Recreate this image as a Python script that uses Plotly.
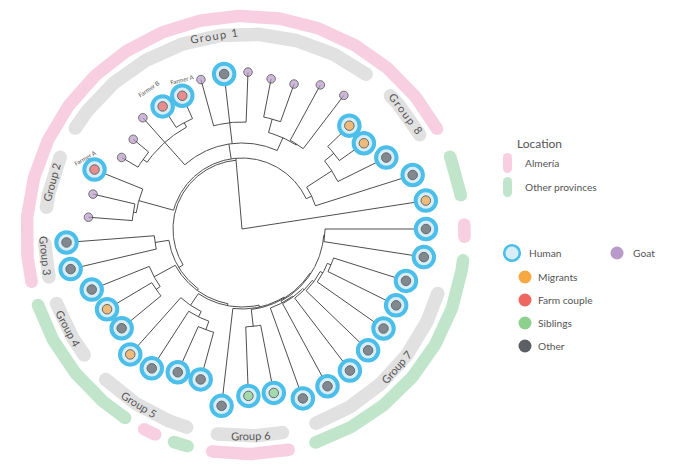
import math
import plotly.graph_objects as go

# ---------------- data ----------------
# leaves in circular order (counter-clockwise, starting just above 3 o'clock)
leaf_host = ["Human", "Human", "Human", "Human", "Human",
             "Goat", "Goat", "Goat", "Goat", "Goat",
             "Human", "Goat", "Human", "Human", "Goat",
             "Goat", "Goat", "Human", "Goat", "Goat",
             "Human", "Human", "Human", "Human", "Human",
             "Human", "Human", "Human", "Human", "Human",
             "Human", "Human", "Human", "Human", "Human",
             "Human", "Human", "Human", "Human", "Human", "Human"]
leaf_cat = ["Migrants", "Other", "Other", "Migrants", "Migrants",
            "Goat", "Goat", "Goat", "Goat", "Goat",
            "Other", "Goat", "Farm couple", "Farm couple", "Goat",
            "Goat", "Goat", "Farm couple", "Goat", "Goat",
            "Other", "Other", "Other", "Migrants", "Other",
            "Migrants", "Other", "Other", "Other", "Other",
            "Siblings", "Siblings", "Other", "Other", "Other",
            "Other", "Other", "Other", "Other", "Other", "Other"]
leaf_dist = [186, 179, 161, 149, 149, 168, 164, 154, 153, 157,
             156, 155, 146, 146, 149, 141, 140, 159, 153, 154,
             176, 176, 162, 157, 156, 168, 166, 157, 156, 178,
             167, 167, 180, 179, 178, 175, 173, 172, 172, 184, 184]
label_leaf = [12, 13, 17]
label_text = ["Farmer A", "Farmer B", "Farmer A"]

# tree: (node depth, [children]) ; integers are leaf indices.
# a third element "first" pins the node to the angle of its first child
group8_clade = (77, [1, (107, [2, (119, [3, 4])])])
goat_clade = (86, [(100, [(101, [5, 6]), (114, [7, 8])]),
                   (107, [9, 10, 11]),
                   (116, [(121, [12, 13]), 14, (121, [15, 16])])])
group2_clade = (107, [17, (110, [18, 19])])
top_clade = (71, [group8_clade, goat_clade, group2_clade])

group7_ladder = (84, [32, (85, [33, (87, [34, (89, [35, (92, [36, (96, [37, 38])])])])])])
rest_clade = (74, [(88, [20, 21]),
                   (76, [(100, [22, (105, [23, 24])]),
                         (78, [(92, [25, (98, [26, (107, [27, 28])])]),
                               (80, [29,
                                     (81, [(98, [30, 31]),
                                           (82, [group7_ladder, (83, [39, 40])])])])])])])
tree = (0, [0, (69, [top_clade, rest_clade], "first")])

group_names = ["Group 1", "Group 2", "Group 3", "Group 4",
               "Group 5", "Group 6", "Group 7", "Group 8"]
group_from = [51.2, 155.3, 180.5, 198.0, 224.0, 260.0, 288.6, 28.0]
group_to = [149.8, 174.0, 194.0, 218.6, 254.9, 282.5, 345.0, 45.8]
group_label_at = [99.0, 165.0, 186.0, 208.0, 238.0, 271.5, 318.5, 37.0]

location_names = ["Almería", "Other provinces", "Almería", "Other provinces",
                  "Almería", "Other provinces", "Almería", "Other provinces"]
location_from = [27.4, 8.8, -2.1, 287.0, 259.6, 249.3, 240.8, 197.0]
location_to = [194.0, 22.6, 4.4, 355.0, 283.0, 256.3, 247.3, 238.3]

# ---------------- style ----------------
W, H = 677, 475
PAGE = 8                          # default body margin of the page
CX_PX, CY_PX = 242, 229           # tree centre in pixels
RING_DX, RING_DY = 3.5, -6.0      # ring centre offset from tree centre
R_GROUP, R_LOC = 201, 219
BAND_W = 12.5
FONT = "Lato, Roboto, sans-serif"
TXT = "#555555"
C_PINK, C_GREEN, C_GREY = "#f8cfe1", "#c0e5ca", "#e1e1e1"
C_LINE = "#3a3a3a"
DOT = {"Migrants": "#f7a843", "Farm couple": "#ef6562", "Siblings": "#8ed18c",
       "Other": "#5c6064", "Goat": "#b89bcb"}
HUMAN_FILL, HUMAN_RING = "#d9edf6", "#4bbfea"
label_dr = [15, 22, 13]
label_da = [-2.3, 0.5, -2.6]
label_rot = [-14, -34, -30]


def P(px, py):
    return px - CX_PX, CY_PX - py


def pol(r, a, cx=0.0, cy=0.0):
    t = math.radians(a)
    return cx + r * math.cos(t), cy + r * math.sin(t)


fig = go.Figure()


def arc_xy(r, a0, a1, cx=0.0, cy=0.0):
    n = max(2, int(abs(a1 - a0) / 0.7) + 2)
    xs, ys = [], []
    for i in range(n):
        x, y = pol(r, a0 + (a1 - a0) * i / (n - 1), cx, cy)
        xs.append(x)
        ys.append(y)
    return xs, ys


def band(r, a0, a1, color, width):
    cap = math.degrees((width / 2) / r)
    b0, b1 = a0 + cap, a1 - cap
    xs, ys = arc_xy(r, b0, b1, RING_DX, RING_DY)
    fig.add_trace(go.Scatter(x=xs, y=ys, mode="lines", hoverinfo="skip",
                             line=dict(color=color, width=width)))
    ex, ey = zip(pol(r, b0, RING_DX, RING_DY), pol(r, b1, RING_DX, RING_DY))
    fig.add_trace(go.Scatter(x=list(ex), y=list(ey), mode="markers", hoverinfo="skip",
                             marker=dict(color=color, size=width, line=dict(width=0))))


# ---- rings ----
for name, a0, a1 in zip(location_names, location_from, location_to):
    band(R_LOC, a0, a1, C_PINK if name == "Almería" else C_GREEN, BAND_W)
for a0, a1 in zip(group_from, group_to):
    band(R_GROUP, a0, a1, C_GREY, BAND_W + 1)

# ---- tree ----
N = len(leaf_dist)
leaf_angle = [(j + 1) * 360.0 / N for j in range(N)]
lx, ly = [], []


def radial(r0, r1, a):
    x0, y0 = pol(r0, a)
    x1, y1 = pol(r1, a)
    lx.extend([x0, x1, None])
    ly.extend([y0, y1, None])


def layout(node, parent_r):
    if isinstance(node, int):
        a = leaf_angle[node]
        radial(parent_r, leaf_dist[node], a)
        return a
    r, kids = node[0], node[1]
    angs = [layout(k, r) for k in kids]
    a0, a1 = angs[0], angs[-1]
    if r > 0:
        xs, ys = arc_xy(r, a0, a1)
        lx.extend(xs + [None])
        ly.extend(ys + [None])
    a = a0 if len(node) > 2 else (a0 + a1) / 2
    if r > 0:
        radial(parent_r, r, a)
    return a


layout(tree, 0)
fig.add_trace(go.Scatter(x=lx, y=ly, mode="lines", hoverinfo="skip",
                         line=dict(color=C_LINE, width=0.9)))

# ---- leaves ----
hx, hy, dx, dy, dc, ds = [], [], [], [], [], []
for j in range(N):
    x, y = pol(leaf_dist[j], leaf_angle[j])
    if leaf_host[j] == "Human":
        hx.append(x)
        hy.append(y)
        ds.append(9.5)
    else:
        ds.append(8.5)
    dx.append(x)
    dy.append(y)
    dc.append(DOT[leaf_cat[j]])
fig.add_trace(go.Scatter(x=hx, y=hy, mode="markers", hoverinfo="skip",
                         marker=dict(size=20.5, color=HUMAN_FILL,
                                     line=dict(color=HUMAN_RING, width=4))))
fig.add_trace(go.Scatter(x=dx, y=dy, mode="markers", hoverinfo="skip",
                         marker=dict(size=ds, color=dc, line=dict(color="#333333", width=1))))

ann = []
for j, name, drr, daa, rot in zip(label_leaf, label_text, label_dr, label_da, label_rot):
    x, y = pol(leaf_dist[j] + drr, leaf_angle[j] + daa)
    ann.append(dict(x=x, y=y, text=name, showarrow=False, textangle=rot,
                    font=dict(size=6, color=TXT, family=FONT)))

# ---- group labels ----
for name, a in zip(group_names, group_label_at):
    x, y = pol(R_GROUP, a, RING_DX, RING_DY)
    ang = 90 - a if 0 < a < 180 else 270 - a
    text = name
    if name in ("Group 1", "Group 8"):
        text = "\u2009".join(list(name))
    ann.append(dict(x=x, y=y + 0.5, text=text, showarrow=False, textangle=ang,
                    font=dict(size=11, color=TXT, family=FONT)))


# ---- legend ----
def legend_text(px, py, text, size=10.5):
    x, y = P(px, py)
    ann.append(dict(x=x, y=y, text=text, showarrow=False, xanchor="left",
                    font=dict(size=size, color=TXT, family=FONT)))


legend_text(515, 143, "Location", 12)
for (py, col, lab) in [(163, C_PINK, "Almería"), (187, C_GREEN, "Other provinces")]:
    x0, y0 = P(507.5, py - 5.5)
    x1, y1 = P(507.5, py + 5.5)
    fig.add_trace(go.Scatter(x=[x0, x1], y=[y0, y1], mode="lines+markers", hoverinfo="skip",
                             line=dict(color=col, width=9),
                             marker=dict(color=col, size=9, line=dict(width=0))))
    legend_text(523, py, lab, 10.2)

x, y = P(512, 253)
fig.add_trace(go.Scatter(x=[x], y=[y], mode="markers", hoverinfo="skip",
                         marker=dict(size=15.5, color=HUMAN_FILL,
                                     line=dict(color=HUMAN_RING, width=2.6))))
legend_text(527, 253, "Human", 10.2)
x, y = P(617, 253)
fig.add_trace(go.Scatter(x=[x], y=[y], mode="markers", hoverinfo="skip",
                         marker=dict(size=13, color=DOT["Goat"], line=dict(width=0))))
legend_text(631, 253, "Goat", 10.2)
for py, cat in [(277, "Migrants"), (300, "Farm couple"), (323, "Siblings"), (346, "Other")]:
    x, y = P(525, py)
    fig.add_trace(go.Scatter(x=[x], y=[y], mode="markers", hoverinfo="skip",
                             marker=dict(size=13, color=DOT[cat], line=dict(width=0))))
    legend_text(536, py, cat, 10.2)

fig.update_layout(
    width=W - PAGE, height=H - PAGE, margin=dict(l=0, r=0, t=0, b=0),
    paper_bgcolor="white", plot_bgcolor="white", showlegend=False,
    xaxis=dict(range=[PAGE - CX_PX, W - CX_PX], visible=False, fixedrange=True),
    yaxis=dict(range=[CY_PX - H, CY_PX - PAGE], visible=False, fixedrange=True),
    annotations=ann,
)
fig.write_html("out.html")
